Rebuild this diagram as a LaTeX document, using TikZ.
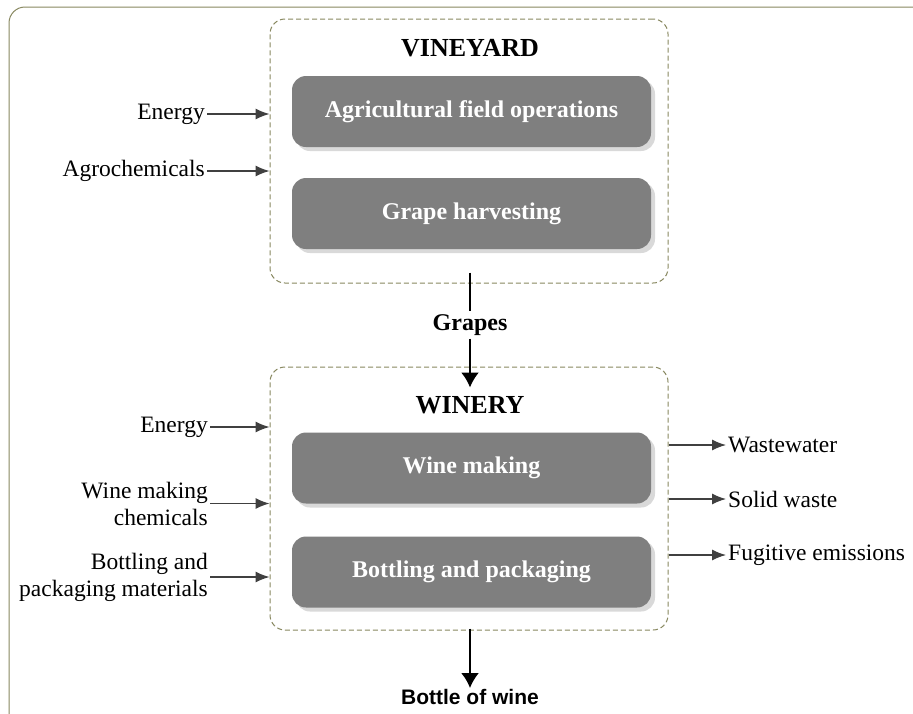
\documentclass[tikz,border=0pt]{standalone}
\usepackage{fontspec}
\setmainfont{Liberation Serif}
\newfontfamily\bottlefont{Liberation Sans}
\usetikzlibrary{arrows.meta,positioning,shadows}

\definecolor{frameolive}{RGB}{136,136,96}
\definecolor{boxgray}{RGB}{127,127,127}
\definecolor{arrowgray}{RGB}{64,64,64}

\tikzset{
  frame/.style={draw=frameolive, line width=1pt, rounded corners=16pt},
  group/.style={draw=frameolive, dash pattern=on 5pt off 3pt, line width=1pt, rounded corners=15pt, minimum width=398pt},
  proc/.style={fill=boxgray, rounded corners=14pt, minimum width=359pt, minimum height=71pt, text=white,
    font=\fontsize{24}{28}\selectfont\bfseries,
    drop shadow={shadow xshift=4pt, shadow yshift=-4pt, fill=black!15, opacity=1}},
  title/.style={font=\fontsize{26}{30}\selectfont\bfseries},
  lab/.style={font=\fontsize{23.5}{27}\selectfont, align=right, inner sep=2pt},
  inarrow/.style={draw=arrowgray, line width=1.2pt, -{Latex[length=14pt,width=11pt]}},
  flow/.style={draw=black, line width=2pt},
}

\begin{document}
\begin{tikzpicture}[x=1pt, y=-1pt]
  \useasboundingbox (0,0) rectangle (913,713);
  \clip (0,0) rectangle (913,713);
  \fill[white] (0,0) rectangle (913,713);

  % outer frame
  \draw[frame] (9,780) -- (9,7) -- (980,7);

  % vineyard
  \node[group, minimum height=264pt] (vin) at (469,151) {};
  \node[title] (vtitle) at (470,48) {VINEYARD};
  \node[proc] (agri) at (471.5,111.5) {Agricultural field operations};
  \node[proc] (harv) at (471.5,213.5) {Grape harvesting};

  \node[lab, anchor=east] (en1) at (207,114) {Energy};
  \node[lab, anchor=east] (agro) at (207,171) {Agrochemicals};
  \draw[inarrow] (en1.east) -- (en1.east -| vin.west);
  \draw[inarrow] (agro.east) -- (agro.east -| vin.west);

  % winery
  \node[group, minimum height=263pt] (win) at (469,498.5) {};
  \node[title] (wtitle) at (470,405) {WINERY};
  \node[proc] (wmak) at (471.5,468) {Wine making};
  \node[proc] (bott) at (471.5,572) {Bottling and packaging};

  \node[lab, anchor=east] (en2) at (210,427) {Energy};
  \node[lab, anchor=east] (chem) at (210,503.5) {Wine making\\chemicals};
  \node[lab, anchor=east] (pack) at (210,577) {Bottling and\\packaging materials};
  \draw[inarrow] (en2.east) -- (en2.east -| win.west);
  \draw[inarrow] (chem.east) -- (chem.east -| win.west);
  \draw[inarrow] (pack.east) -- (pack.east -| win.west);

  \node[lab, anchor=west] (ww) at (726,445) {Wastewater};
  \node[lab, anchor=west] (sw) at (726,499) {Solid waste};
  \node[lab, anchor=west] (fe) at (726,555) {Fugitive emissions};
  \draw[inarrow] (ww.west -| win.east) -- (ww.west);
  \draw[inarrow] (sw.west -| win.east) -- (sw.west);
  \draw[inarrow] (fe.west -| win.east) -- (fe.west);

  % grapes and bottle
  \node[font=\fontsize{24}{28}\selectfont\bfseries, inner sep=3pt] (grp) at (470,325) {Grapes};
  \draw[flow] ([yshift=11pt]vin.south -| grp.north) -- (grp.north);
  \draw[flow, -{Latex[length=15pt,width=18pt]}] (grp.south) -- ([yshift=-21pt]win.north -| grp.south);

  \node[font=\bottlefont\fontsize{21}{25}\selectfont\bfseries, anchor=north, inner sep=1pt] (bot) at (470,688) {Bottle of wine};
  \draw[flow, -{Latex[length=15pt,width=18pt]}] ([yshift=2pt]win.south -| bot.north) -- (bot.north);
\end{tikzpicture}
\end{document}
